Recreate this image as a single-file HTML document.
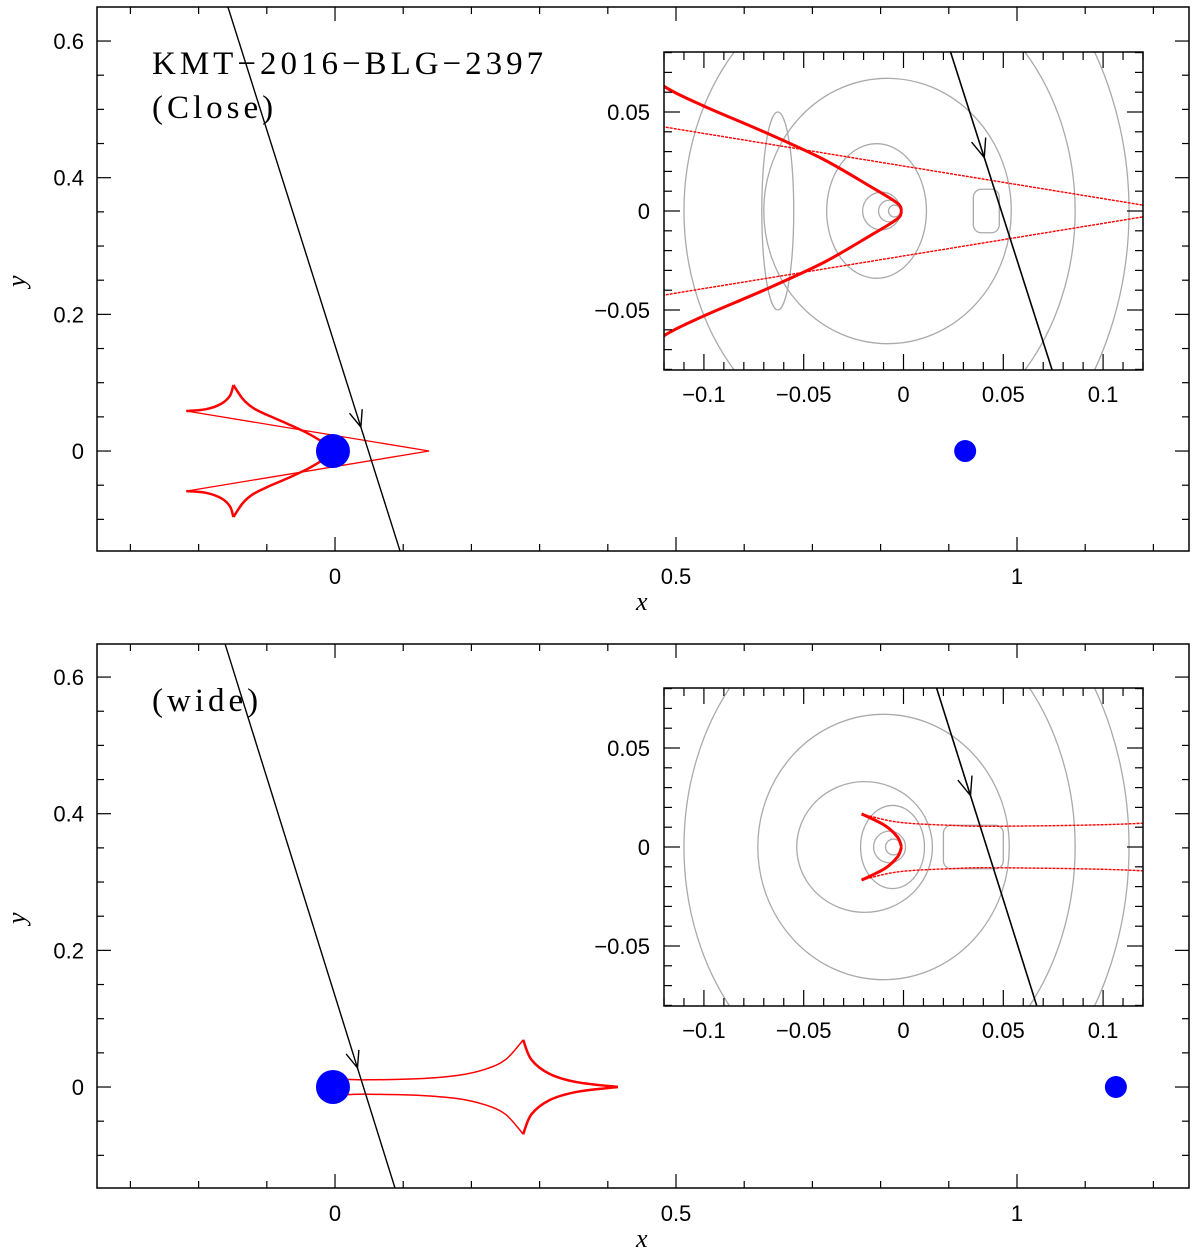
<!DOCTYPE html>
<html><head><meta charset="utf-8"><style>
html,body{margin:0;padding:0;background:#fff;}
svg text{font-family:"Liberation Sans",sans-serif;fill:#000;}
</style></head><body>
<svg id="fig" xmlns="http://www.w3.org/2000/svg" width="1200" height="1254" viewBox="0 0 1200 1254"></svg>
<script>
// ---- data ----
const closeCentralArm = [[-0.149,0.0966],[-0.135,0.076],[-0.12,0.063],[-0.1,0.053],[-0.07,0.040],[-0.04,0.026],[-0.016,0.012],[-0.006,0.006],[-0.002,0.003],[-0.001,0]];
const closeCuspEdge = [[-0.218,0.0586],[-0.19,0.061],[-0.167,0.069],[-0.154,0.081],[-0.149,0.0966]];
const closeThinEdge = [[-0.218,0.0586],[0.138,0]];
const wideCentralArc = [[-0.021,0.0167],[-0.0095,0.011],[-0.003,0.005],[-0.001,0]];
const wideUpperEdge = [[-0.021,0.0167],[-0.003,0.0126],[0.022,0.011],[0.05,0.0105],[0.12,0.012],[0.18,0.017],[0.22,0.026],[0.25,0.040],[0.276,0.069]];
const wideCuspEdge = [[0.276,0.069],[0.288,0.040],[0.315,0.019],[0.355,0.007],[0.415,0]];
const closeTraj = [[-0.157,0.65],[0.0953,-0.146]];
const wideTraj = [[-0.161,0.648],[0.088,-0.148]];
const closeLenses = [[-0.003,0,17],[0.924,0,11]];
const wideLenses = [[-0.003,0,17],[1.145,0,11]];
// contour ellipses [cx, cy, rx, ry]
const closeContours = [[-0.0045,0,0.003,0.003],[-0.007,0,0.0055,0.0055],[-0.011,0,0.0095,0.0095],[-0.0135,0,0.025,0.034],[-0.008,0,0.062,0.067],[-0.012,0,0.098,0.12],[-0.015,0,0.128,0.16],[-0.063,0,0.008,0.05]];
const wideContours = [[-0.005,0,0.004,0.004],[-0.007,0,0.008,0.008],[-0.0055,0,0.016,0.021],[-0.0195,0,0.034,0.033],[-0.01,0,0.063,0.067],[-0.012,0,0.098,0.125],[-0.015,0,0.128,0.16]];
const wideBox = [[0.02,0.05,0.011]];

const svg=document.getElementById('fig');
const NS='http://www.w3.org/2000/svg';
function mk(tag,attrs,parent){const e=document.createElementNS(NS,tag);for(const k in attrs)e.setAttribute(k,attrs[k]);(parent||svg).appendChild(e);return e;}
function sc(d0,d1,p0,p1){return v=>p0+(v-d0)/(d1-d0)*(p1-p0);}
function poly(pts,X,Y,mirror){
  const P=pts.map(p=>[X(p[0]),Y(mirror?-p[1]:p[1])]);
  if(P.length<3) return P.map((p,i)=>(i?'L':'M')+p[0].toFixed(1)+','+p[1].toFixed(1)).join(' ');
  let d='M'+P[0][0].toFixed(1)+','+P[0][1].toFixed(1);
  for(let i=0;i<P.length-1;i++){
    const p0=P[Math.max(0,i-1)],p1=P[i],p2=P[i+1],p3=P[Math.min(P.length-1,i+2)];
    const c1=[p1[0]+(p2[0]-p0[0])/6,p1[1]+(p2[1]-p0[1])/6];
    const c2=[p2[0]-(p3[0]-p1[0])/6,p2[1]-(p3[1]-p1[1])/6];
    d+=` C${c1[0].toFixed(1)},${c1[1].toFixed(1)} ${c2[0].toFixed(1)},${c2[1].toFixed(1)} ${p2[0].toFixed(1)},${p2[1].toFixed(1)}`;
  }
  return d;
}

let clipN=0;
function axes(g,fx,X,Y,xd,yd,xminor,xmajor,yminor,ymajor,xlab,ylab,lx,ly,fs,xlabY,ylabX){
  mk('rect',{x:fx[0],y:fx[2],width:fx[1]-fx[0],height:fx[3]-fx[2],fill:'none',stroke:'#000','stroke-width':1.5},g);
  const eps=1e-9;
  for(let v=Math.ceil(xd[0]/xminor-eps)*xminor; v<=xd[1]+eps; v+=xminor){
    const maj=Math.abs(v/xmajor-Math.round(v/xmajor))<1e-6; const L=maj?lx:lx/2; const x=X(v);
    mk('line',{x1:x,y1:fx[3],x2:x,y2:fx[3]-L,stroke:'#000','stroke-width':1.2},g);
    mk('line',{x1:x,y1:fx[2],x2:x,y2:fx[2]+L,stroke:'#000','stroke-width':1.2},g);
    if(maj&&xlab){const t=mk('text',{x:x,y:xlabY,'text-anchor':'middle','font-size':fs},g);t.textContent=xlab(v);
      
      }
  }
  for(let v=Math.ceil(yd[0]/yminor-eps)*yminor; v<=yd[1]+eps; v+=yminor){
    const maj=Math.abs(v/ymajor-Math.round(v/ymajor))<1e-6; const L=maj?ly:ly/2; const y=Y(v);
    mk('line',{x1:fx[0],y1:y,x2:fx[0]+L,y2:y,stroke:'#000','stroke-width':1.2},g);
    mk('line',{x1:fx[1],y1:y,x2:fx[1]-L,y2:y,stroke:'#000','stroke-width':1.2},g);
    if(maj&&ylab){const t=mk('text',{x:ylabX,y:y+8,'text-anchor':'end','font-size':fs},g);t.textContent=ylab(v);
      
      }
  }
}
function fmt(v){let s=(Math.abs(v)<1e-9)?'0':String(+v.toFixed(2));return s.replace('-','\u2212');}

function arrow(g,traj,X,Y,yTip,len){
  const [a,b]=traj; const t=(yTip-a[1])/(b[1]-a[1]);
  const px=X(a[0]+t*(b[0]-a[0])), py=Y(yTip);
  const dx=X(b[0])-X(a[0]), dy=Y(b[1])-Y(a[1]); const n=Math.hypot(dx,dy); const ux=dx/n, uy=dy/n;
  const ang=0.38; const c=Math.cos(ang), s=Math.sin(ang);
  const l1=[-ux*c+uy*s, -uy*c-ux*s], l2=[-ux*c-uy*s, -uy*c+ux*s];
  const e=mk('path',{d:`M${px+l1[0]*len},${py+l1[1]*len} L${px},${py} L${px+l2[0]*len},${py+l2[1]*len}`,fill:'none',stroke:'#000','stroke-width':1.4},g);
  
  
}

function panel(cfg){
  const g=mk('g',{});
  
  
  const f=cfg.frame; const X=sc(-0.349,1.2522,f[0],f[1]); const Y=sc(cfg.yd[0],cfg.yd[1],f[3],f[2]);
  const cid='c'+(clipN++);
  const cp=mk('clipPath',{id:cid},g); mk('rect',{x:f[0],y:f[2],width:f[1]-f[0],height:f[3]-f[2]},cp);
  const mg=mk('g',{'clip-path':`url(#${cid})`},g);
  cfg.caustics.forEach(c=>{[false,true].forEach(m=>{const p=mk('path',{d:poly(c.pts,X,Y,m),fill:'none',stroke:'#f00','stroke-width':c.w,'stroke-linejoin':'round'},mg);
    
    });});
  cfg.lenses.forEach(l=>{const c=mk('circle',{cx:X(l[0]),cy:Y(l[1]),r:l[2],fill:'#00f'},mg);
    
    });
  const tr=mk('path',{d:poly(cfg.traj,X,Y,false),stroke:'#000','stroke-width':1.4,fill:'none'},mg);
  
  
  arrow(mg,cfg.traj,X,Y,cfg.arrowY,18);
  axes(g,f,X,Y,[-0.349,1.2522],cfg.yd,0.1,0.5,0.05,0.2,fmt,fmt,14,14,22,f[3]+33,84);
  const xl=mk('text',{x:(f[0]+f[1])/2-7,y:f[3]+59,'font-size':26,style:'font-style:italic;font-family:"Liberation Serif",serif'},g);xl.textContent='x';
  
  
  const cy=(f[2]+f[3])/2+8;
  const yl=mk('text',{x:0,y:0,'font-size':26,style:'font-style:italic;font-family:"Liberation Serif",serif',transform:`translate(25,${cy}) rotate(-90)`},g);yl.textContent='y';
  
  
  cfg.titles.forEach((t,i)=>{const e=mk('text',{x:152,y:f[2]+67+i*44,'font-size':33,style:'font-family:"Liberation Serif",serif;letter-spacing:4px'},g);e.textContent=t;
    
    });
  // inset
  const fi=cfg.inset; const IX=sc(-0.12,0.12,fi[0],fi[1]); const IY=sc(-0.0803,0.0803,fi[3],fi[2]);
  mk('rect',{x:fi[0],y:fi[2],width:fi[1]-fi[0],height:fi[3]-fi[2],fill:'#fff'},g);
  const cid2='c'+(clipN++);
  const cp2=mk('clipPath',{id:cid2},g); mk('rect',{x:fi[0],y:fi[2],width:fi[1]-fi[0],height:fi[3]-fi[2]},cp2);
  const ig=mk('g',{'clip-path':`url(#${cid2})`},g);
  
  
  cfg.contours.forEach(e=>{const el=mk('ellipse',{cx:IX(e[0]),cy:IY(e[1]),rx:IX(e[2])-IX(0),ry:IY(0)-IY(e[3]),fill:'none',stroke:'#aaa','stroke-width':1.3},ig);
    
    });
  (cfg.boxes||[]).forEach(b=>{const el=mk('rect',{x:IX(b[0]),y:IY(b[2]),width:IX(b[1])-IX(b[0]),height:IY(-b[2])-IY(b[2]),rx:8,fill:'none',stroke:'#aaa','stroke-width':1.3},ig);
    
    });
  cfg.caustics.forEach(c=>{[false,true].forEach(m=>{const p=mk('path',{d:poly(c.pts,IX,IY,m),fill:'none',stroke:'#f00','stroke-width':c.w>2?3:1.4,'stroke-dasharray':c.w>2?'':'3,1','stroke-linejoin':'round'},ig);
    
    });});
  const it=mk('path',{d:poly(cfg.traj,IX,IY,false),stroke:'#000','stroke-width':1.6,fill:'none'},ig);
  
  
  arrow(ig,cfg.traj,IX,IY,cfg.iarrowY,20);
  axes(g,fi,IX,IY,[-0.12,0.12],[-0.0803,0.0803],0.01,0.05,0.01,0.05,fmt,fmt,16,16,22,fi[3]+32,650);
}

panel({name:'close-panel',frame:[97,1189,7,551],yd:[-0.1463,0.6498],inset:[664,1143,52,370],
  caustics:[{pts:closeCentralArm,w:2.5},{pts:closeCuspEdge,w:2.5},{pts:closeThinEdge,w:1.3}],
  lenses:closeLenses,traj:closeTraj,arrowY:0.035,iarrowY:0.027,contours:closeContours,boxes:[[0.035,0.048,0.011]],
  titles:['KMT\u22122016\u2212BLG\u22122397','(Close)']});
panel({name:'wide-panel',frame:[97,1189,644,1188],yd:[-0.1478,0.6484],inset:[664,1143,688,1006],
  caustics:[{pts:wideCentralArc,w:2.5},{pts:wideUpperEdge,w:1.5},{pts:wideCuspEdge,w:2.5}],
  lenses:wideLenses,traj:wideTraj,arrowY:0.028,iarrowY:0.026,contours:wideContours,boxes:wideBox,
  titles:['(wide)']});
</script>
</body></html>
